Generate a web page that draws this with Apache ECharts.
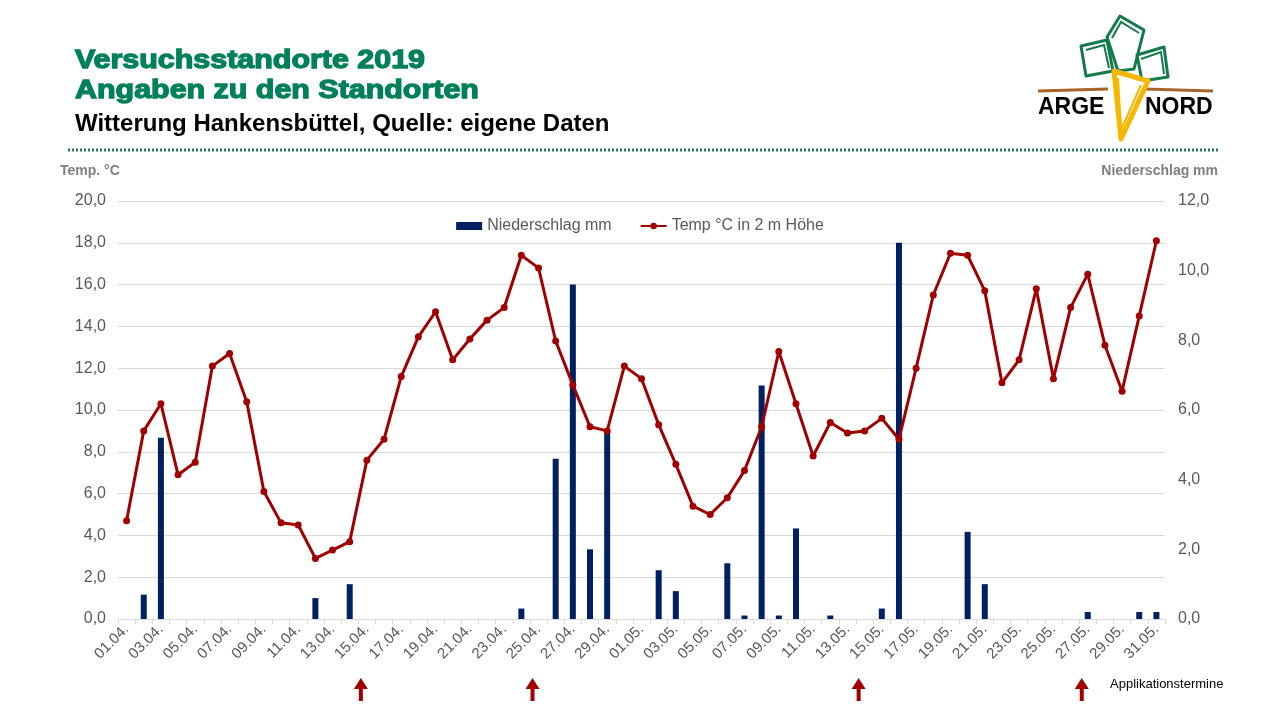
<!DOCTYPE html>
<html lang="de">
<head>
    <meta charset="UTF-8">
    <title>Versuchsstandorte 2019 - Witterung Hankensbüttel</title>
    <script src="https://cdn.jsdelivr.net/npm/echarts@6/dist/echarts.min.js"></script>
    <style>
        html, body { margin: 0; padding: 0; background: #fff; }
        #main { width: 1280px; height: 720px; }
    </style>
</head>
<body>
<div id="main"></div>

<script type="text/javascript">

    // Tage 01.04. - 31.05.
    var tage = ['01.04.', '02.04.', '03.04.', '04.04.', '05.04.', '06.04.', '07.04.', '08.04.', '09.04.', '10.04.',
        '11.04.', '12.04.', '13.04.', '14.04.', '15.04.', '16.04.', '17.04.', '18.04.', '19.04.', '20.04.',
        '21.04.', '22.04.', '23.04.', '24.04.', '25.04.', '26.04.', '27.04.', '28.04.', '29.04.', '30.04.',
        '01.05.', '02.05.', '03.05.', '04.05.', '05.05.', '06.05.', '07.05.', '08.05.', '09.05.', '10.05.',
        '11.05.', '12.05.', '13.05.', '14.05.', '15.05.', '16.05.', '17.05.', '18.05.', '19.05.', '20.05.',
        '21.05.', '22.05.', '23.05.', '24.05.', '25.05.', '26.05.', '27.05.', '28.05.', '29.05.', '30.05.',
        '31.05.'];

    // Niederschlag mm (rechte Achse)
    var niederschlag = [0, 0.7, 5.2, 0, 0, 0, 0, 0, 0, 0,
        0, 0.6, 0, 1.0, 0, 0, 0, 0, 0, 0,
        0, 0, 0, 0.3, 0, 4.6, 9.6, 2.0, 5.4, 0,
        0, 1.4, 0.8, 0, 0, 1.6, 0.1, 6.7, 0.1, 2.6,
        0, 0.1, 0, 0, 0.3, 10.8, 0, 0, 0, 2.5,
        1.0, 0, 0, 0, 0, 0, 0.2, 0, 0, 0.2,
        0.2];

    // Temp °C in 2 m Höhe (linke Achse)
    var temperatur = [4.7, 9.0, 10.3, 6.9, 7.5, 12.1, 12.7, 10.4, 6.1, 4.6,
        4.5, 2.9, 3.3, 3.7, 7.6, 8.6, 11.6, 13.5, 14.7, 12.4,
        13.4, 14.3, 14.9, 17.4, 16.8, 13.3, 11.2, 9.2, 9.0, 12.1,
        11.5, 9.3, 7.4, 5.4, 5.0, 5.8, 7.1, 9.2, 12.8, 10.3,
        7.8, 9.4, 8.9, 9.0, 9.6, 8.6, 12.0, 15.5, 17.5, 17.4,
        15.7, 11.3, 12.4, 15.8, 11.5, 14.9, 16.5, 13.1, 10.9, 14.5,
        18.1];

    // Applikationstermine (Pfeile unter der Achse)
    var applikation = ['15.04.', '25.04.', '14.05.', '27.05.'];

    var grau = '#595959';
    var gruen = '#00805a';

    var myChart = echarts.init(document.getElementById('main'), null, {renderer: 'canvas'});

    function komma(v) {
        return v.toFixed(1).replace('.', ',');
    }

    // Logo ARGE NORD (grob nachgezeichnet)
    var blatt = {fill: 'none', stroke: '#137a4a', lineWidth: 3, lineJoin: 'round'};
    var logo = [
        {type: 'line', shape: {x1: 1038, y1: 91, x2: 1108, y2: 89}, style: {stroke: '#a8652a', lineWidth: 3}},
        {type: 'line', shape: {x1: 1144, y1: 89, x2: 1213, y2: 91}, style: {stroke: '#a8652a', lineWidth: 3}},
        {type: 'polygon', shape: {points: [[1081, 46], [1107, 40], [1113, 71], [1086, 76]]}, style: blatt},
        {type: 'polyline', shape: {points: [[1086, 50], [1104, 45], [1109, 68]]}, style: {stroke: '#137a4a', lineWidth: 2}},
        {type: 'polygon', shape: {points: [[1107, 37], [1120, 16], [1144, 30], [1134, 69], [1118, 71]]}, style: blatt},
        {type: 'polyline', shape: {points: [[1112, 38], [1121, 22], [1139, 33]]}, style: {stroke: '#137a4a', lineWidth: 2}},
        {type: 'polygon', shape: {points: [[1137, 55], [1164, 47], [1168, 77], [1142, 81]]}, style: blatt},
        {type: 'polyline', shape: {points: [[1141, 59], [1161, 52], [1164, 74]]}, style: {stroke: '#137a4a', lineWidth: 2}},
        {type: 'polygon', shape: {points: [[1114, 71], [1148, 81], [1121, 139]]},
            style: {fill: '#fff', stroke: '#f5b800', lineWidth: 5, lineJoin: 'round'}},
        {type: 'polyline', shape: {points: [[1118, 78], [1121, 130], [1141, 85]]}, style: {stroke: '#f5b800', lineWidth: 2}},
        {type: 'text', x: 1038, y: 108, style: {text: 'ARGE', fill: '#000', font: 'bold 23px "Liberation Sans", Arial', verticalAlign: 'middle'}},
        {type: 'text', x: 1145, y: 108, style: {text: 'NORD', fill: '#000', font: 'bold 23px "Liberation Sans", Arial', verticalAlign: 'middle'}}
    ];

    var option = {
        backgroundColor: '#fff',
        animation: false,
        textStyle: {fontFamily: '"Liberation Sans", Arial, sans-serif'},
        legend: {
            top: 213,
            left: 'center',
            itemWidth: 26,
            itemHeight: 8,
            itemGap: 28,
            textStyle: {color: grau, fontSize: 16},
            data: [
                {name: 'Niederschlag mm', icon: 'rect'},
                {name: 'Temp °C in 2 m Höhe'}
            ]
        },
        grid: {left: 118, right: 115, top: 201, bottom: 101},
        xAxis: {
            type: 'category',
            data: tage,
            boundaryGap: true,
            axisLine: {lineStyle: {color: '#d9d9d9'}},
            axisTick: {show: true, alignWithLabel: false, interval: 0, length: 5, lineStyle: {color: '#d9d9d9'}},
            axisLabel: {interval: 1, rotate: 45, color: grau, fontSize: 15, margin: 8}
        },
        yAxis: [
            {
                type: 'value', min: 0, max: 20, interval: 2,
                axisLabel: {color: grau, fontSize: 16, margin: 12, formatter: komma},
                axisLine: {show: false}, axisTick: {show: false},
                splitLine: {lineStyle: {color: '#d9d9d9', width: 1}}
            },
            {
                type: 'value', min: 0, max: 12, interval: 2, position: 'right',
                axisLabel: {color: grau, fontSize: 16, margin: 13, formatter: komma},
                axisLine: {show: false}, axisTick: {show: false},
                splitLine: {show: false}
            }
        ],
        series: [
            {
                name: 'Niederschlag mm',
                type: 'bar',
                yAxisIndex: 1,
                barWidth: 6,
                itemStyle: {color: '#002060'},
                data: niederschlag,
                z: 2
            },
            {
                name: 'Temp °C in 2 m Höhe',
                type: 'line',
                yAxisIndex: 0,
                symbol: 'circle',
                symbolSize: 7,
                lineStyle: {color: '#a00000', width: 3},
                itemStyle: {color: '#a00000'},
                data: temperatur,
                z: 3
            }
        ],
        graphic: [
            // Überschrift: breite, fette Schrift -> horizontal gestreckt und mit Kontur verstärkt
            {type: 'text', x: 75, y: 61, scaleX: 1.17, style: {text: 'Versuchsstandorte 2019', fill: gruen, stroke: gruen, lineWidth: 1.3, font: 'bold 26px "Liberation Sans", Arial', verticalAlign: 'middle'}},
            {type: 'text', x: 75, y: 91, scaleX: 1.17, style: {text: 'Angaben zu den Standorten', fill: gruen, stroke: gruen, lineWidth: 1.3, font: 'bold 26px "Liberation Sans", Arial', verticalAlign: 'middle'}},
            {type: 'text', x: 75, y: 124, style: {text: 'Witterung Hankensbüttel, Quelle: eigene Daten', fill: '#000', font: 'bold 24px "Liberation Sans", Arial', verticalAlign: 'middle'}},
            {type: 'line', shape: {x1: 68, y1: 150, x2: 1218, y2: 150},
                style: {stroke: '#2e7d4f', lineWidth: 3, lineDash: [2, 2]}},
            {type: 'text', left: 60, top: 164, style: {text: 'Temp. °C', fill: '#7f7f7f', font: 'bold 14px "Liberation Sans", Arial'}},
            {type: 'text', right: 62, top: 164, style: {text: 'Niederschlag mm', fill: '#7f7f7f', font: 'bold 14px "Liberation Sans", Arial'}},
            {type: 'text', left: 1110, top: 678, style: {text: 'Applikationstermine', fill: '#000', font: '13px "Liberation Sans", Arial'}}
        ].concat(logo)
    };

    myChart.setOption(option);

    // Pfeile für Applikationstermine an der Kategorieachse ausrichten
    var pfeile = applikation.map(function (tag) {
        var px = myChart.convertToPixel({xAxisIndex: 0}, tag) - 6;
        return {
            type: 'polygon',
            shape: {points: [[px, 678], [px + 7, 689], [px + 2, 689], [px + 2, 701], [px - 2, 701], [px - 2, 689], [px - 7, 689]]},
            style: {fill: '#a00000'}
        };
    });
    myChart.setOption({graphic: option.graphic.concat(pfeile)});

</script>
</body>
</html>
